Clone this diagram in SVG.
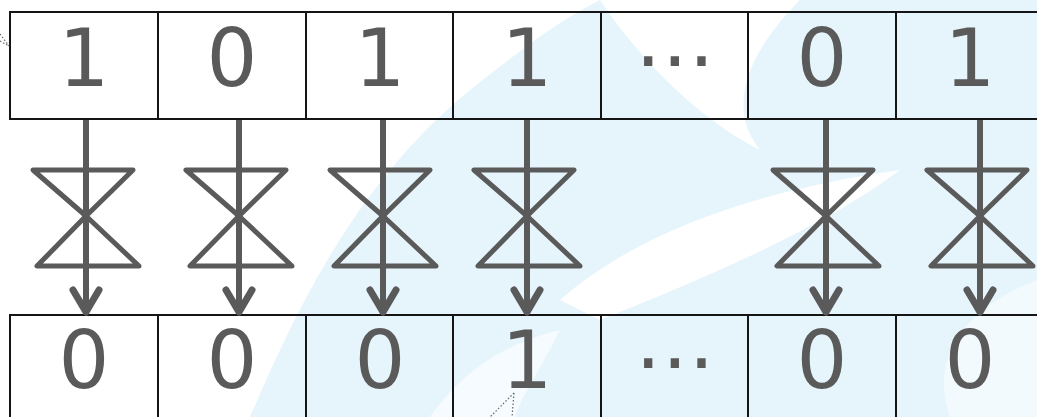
<svg xmlns="http://www.w3.org/2000/svg" xmlns:xlink="http://www.w3.org/1999/xlink" width="1037" height="417" viewBox="0 0 1037 417">
<style>
.cell{fill:none;stroke:#151515;stroke-width:2}
.bit{font-family:"DejaVu Sans",sans-serif;font-size:80px;fill:#5a5a5a;text-anchor:middle}
.wire{stroke:#5a5a5a;stroke-width:6;fill:none}
.gate{stroke:#5a5a5a;stroke-width:5;fill:none;stroke-linejoin:round;stroke-linecap:round}
.dot{stroke:#666;stroke-width:1.2;stroke-dasharray:1.5 2;fill:none}
.wm{fill:#e6f5fc}
.wmw{fill:#ffffff}
</style>
<defs>
<marker id="ah" markerUnits="userSpaceOnUse" markerWidth="40" markerHeight="40" refX="0" refY="0" viewBox="-30 -20 40 40" orient="auto" overflow="visible">
<path d="M-22,-13 L0,0 L-22,13" fill="none" stroke="#5a5a5a" stroke-width="7" stroke-linecap="round" stroke-linejoin="round"/>
</marker>
<g id="hg">
<path class="gate" d="M-53,170 L47,170 L0,216 Z"/>
<path class="gate" d="M0,216 L-49,266 L53,266 Z"/>
</g>
</defs>
<rect width="1037" height="417" fill="#ffffff"/>
<g id="watermark">
<path class="wm" d="M250,417 C300,300 360,180 470,90 C520,50 560,20 600,0 L1037,0 L1037,417 Z"/>
<path class="wmw" d="M600,0 C640,60 700,120 760,150 C720,100 760,40 800,0 Z"/>
<path class="wmw" d="M560,300 C640,230 760,190 900,170 C820,230 700,280 600,320 Z"/>
<path class="wmw" d="M950,417 C930,360 960,310 1037,280 L1037,417 Z" opacity="0.5"/>
<path class="wmw" d="M430,417 C470,360 520,340 560,330 C540,370 520,400 515,417 Z" opacity="0.6"/>
</g>
<g id="top-row">
<g id="top-0"><rect class="cell" x="10" y="12" width="148" height="107"/><text class="bit" x="84" y="86">1</text></g>
<g id="top-1"><rect class="cell" x="158" y="12" width="148" height="107"/><text class="bit" x="232" y="86">0</text></g>
<g id="top-2"><rect class="cell" x="306" y="12" width="147" height="107"/><text class="bit" x="380" y="86">1</text></g>
<g id="top-3"><rect class="cell" x="453" y="12" width="148" height="107"/><text class="bit" x="527" y="86">1</text></g>
<g id="top-4"><rect class="cell" x="601" y="12" width="147" height="107"/><text class="bit" x="675" y="86">⋯</text></g>
<g id="top-5"><rect class="cell" x="748" y="12" width="148" height="107"/><text class="bit" x="822" y="86">0</text></g>
<g id="top-6"><rect class="cell" x="896" y="12" width="148" height="107"/><text class="bit" x="970" y="86">1</text></g>
</g>
<g id="bottom-row">
<g id="bot-0"><rect class="cell" x="10" y="315" width="148" height="110"/><text class="bit" x="84" y="388">0</text></g>
<g id="bot-1"><rect class="cell" x="158" y="315" width="148" height="110"/><text class="bit" x="232" y="388">0</text></g>
<g id="bot-2"><rect class="cell" x="306" y="315" width="147" height="110"/><text class="bit" x="380" y="388">0</text></g>
<g id="bot-3"><rect class="cell" x="453" y="315" width="148" height="110"/><text class="bit" x="527" y="388">1</text></g>
<g id="bot-4"><rect class="cell" x="601" y="315" width="147" height="110"/><text class="bit" x="675" y="388">⋯</text></g>
<g id="bot-5"><rect class="cell" x="748" y="315" width="148" height="110"/><text class="bit" x="822" y="388">0</text></g>
<g id="bot-6"><rect class="cell" x="896" y="315" width="148" height="110"/><text class="bit" x="970" y="388">0</text></g>
</g>
<g id="gates">
<use id="gate-0" xlink:href="#hg" href="#hg" transform="translate(86,0)"/>
<use id="gate-1" xlink:href="#hg" href="#hg" transform="translate(239,0)"/>
<use id="gate-2" xlink:href="#hg" href="#hg" transform="translate(383,0)"/>
<use id="gate-3" xlink:href="#hg" href="#hg" transform="translate(527,0)"/>
<use id="gate-5" xlink:href="#hg" href="#hg" transform="translate(826,0)"/>
<use id="gate-6" xlink:href="#hg" href="#hg" transform="translate(980,0)"/>
</g>
<g id="connectors">
<line class="wire" x1="86" y1="120" x2="86" y2="312" marker-end="url(#ah)"/>
<line class="wire" x1="239" y1="120" x2="239" y2="312" marker-end="url(#ah)"/>
<line class="wire" x1="383" y1="120" x2="383" y2="312" marker-end="url(#ah)"/>
<line class="wire" x1="527" y1="120" x2="527" y2="312" marker-end="url(#ah)"/>
<line class="wire" x1="826" y1="120" x2="826" y2="312" marker-end="url(#ah)"/>
<line class="wire" x1="980" y1="120" x2="980" y2="312" marker-end="url(#ah)"/>
<path class="dot" d="M0,34 L9,46 M0,41 L9,46"/>
<path class="dot" d="M514,393 L490,417 M514,393 L512,417"/>
</g>
</svg>
